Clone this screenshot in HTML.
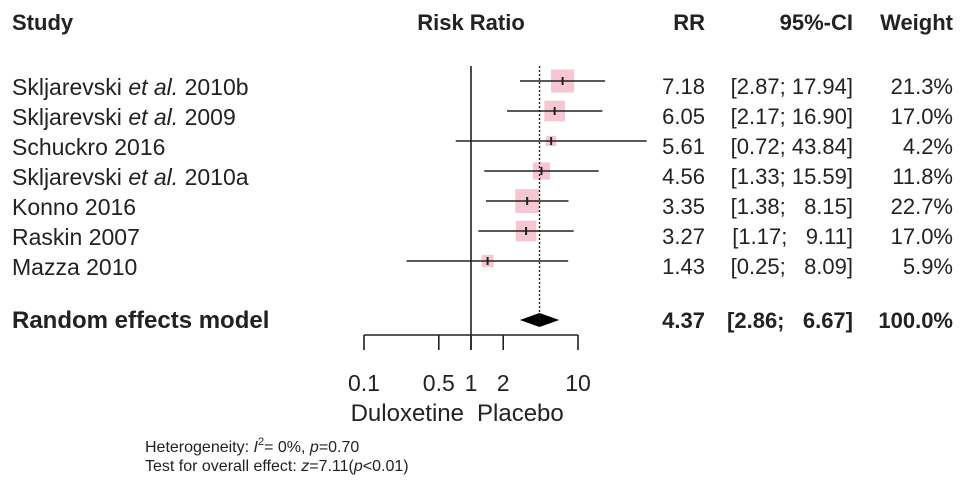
<!DOCTYPE html>
<html><head><meta charset="utf-8"><style>
body{margin:0;background:#fff;}
svg{display:block;font-family:"Liberation Sans",Arial,sans-serif;}
</style></head><body>
<svg id="chart" width="969" height="490" viewBox="0 0 969 490" xmlns="http://www.w3.org/2000/svg">
<g id="hdr" fill="#222" font-weight="bold" font-size="22">
<text x="12" y="30">Study</text>
<text x="471" y="30" text-anchor="middle">Risk Ratio</text>
<text x="705" y="30" text-anchor="end">RR</text>
<text x="853" y="30" text-anchor="end">95%-CI</text>
<text x="953" y="30" text-anchor="end">Weight</text>
</g>
<g id="rows"></g>
<g id="axis" stroke="#222" stroke-width="1.6" fill="none"></g>
<g id="foot" fill="#222" font-size="16">
<text x="145" y="452">Heterogeneity: <tspan font-style="italic">I</tspan><tspan dy="-7" font-size="11">2</tspan><tspan dy="7">= 0%, </tspan><tspan font-style="italic">p</tspan>=0.70</text>
<text x="145" y="471">Test for overall effect: <tspan font-style="italic">z</tspan>=7.11(<tspan font-style="italic">p</tspan>&lt;0.01)</text>
</g>
</svg>
<script>
const studies=["Skljarevski|et al.| 2010b","Skljarevski|et al.| 2009","Schuckro 2016","Skljarevski|et al.| 2010a","Konno 2016","Raskin 2007","Mazza 2010"];
const rr=[7.18,6.05,5.61,4.56,3.35,3.27,1.43];
const lo=[2.87,2.17,0.72,1.33,1.38,1.17,0.25];
const hi=[17.94,16.90,43.84,15.59,8.15,9.11,8.09];
const weight=[21.3,17.0,4.2,11.8,22.7,17.0,5.9];
const pooled=[4.37,2.86,6.67];
const ticks=[0.1,0.5,1,2,10];
const tickLabels=["0.1","0.5","1","2","10"];
const NS="http://www.w3.org/2000/svg";
const x=v=>471+107*Math.log10(v);
const rowY=i=>81+i*30;
function mk(tag,attrs,parent,text){const e=document.createElementNS(NS,tag);for(const k in attrs)e.setAttribute(k,attrs[k]);if(text!==undefined)e.textContent=text;parent.appendChild(e);return e;}
const rows=document.getElementById('rows');
const axis=document.getElementById('axis');
const f2=v=>v.toFixed(2);
const ciStr=(a,b)=>'['+f2(a)+';\u00a0'+f2(b).padStart(5,'\u2007')+']';
let l=mk('line',{x1:x(1),x2:x(1),y1:66,y2:350,stroke:'#222','stroke-width':1.6},axis);


l=mk('line',{x1:x(pooled[0]),x2:x(pooled[0]),y1:66,y2:320,stroke:'#222','stroke-width':1.4,'stroke-dasharray':'2,2'},axis);


studies.forEach((s,i)=>{
  const y=rowY(i);
  const g=mk('g',{},rows);
  
  
  const p=s.split('|');
  const t=mk('text',{x:12,y:y+14,'font-size':23,fill:'#222'},g);
  
  
  mk('tspan',{},t,p[0]+(p.length>1?' ':''));
  if(p.length>1){mk('tspan',{'font-style':'italic'},t,p[1]);mk('tspan',{},t,p[2]);}
  const side=5*Math.sqrt(weight[i]);
  const sq=mk('rect',{x:x(rr[i])-side/2,y:y-side/2,width:side,height:side,fill:'#f7c6d3'},g);
  
  
  const ci=mk('line',{x1:x(lo[i]),x2:x(hi[i]),y1:y,y2:y,stroke:'#222','stroke-width':1.6},g);
  
  
  const pt=mk('line',{x1:x(rr[i]),x2:x(rr[i]),y1:y-4,y2:y+4,stroke:'#222','stroke-width':2},g);
  
  
  let tx=mk('text',{x:705,y:y+13,'font-size':22,fill:'#222','text-anchor':'end'},g,f2(rr[i]));
  
  
  tx=mk('text',{x:853,y:y+13,'font-size':22,fill:'#222','text-anchor':'end'},g,ciStr(lo[i],hi[i]));
  
  
  tx=mk('text',{x:953,y:y+13,'font-size':22,fill:'#222','text-anchor':'end'},g,weight[i].toFixed(1)+'%');
  
  
});
const py=320;
const pg=mk('g',{},rows);


let t=mk('text',{x:12,y:py+8,'font-size':24,'font-weight':'bold',fill:'#222'},pg,'Random effects model');


const dm=mk('polygon',{points:`${x(pooled[1])},${py} ${x(pooled[0])},${py-7} ${x(pooled[2])},${py} ${x(pooled[0])},${py+7}`,fill:'#000'},pg);


t=mk('text',{x:705,y:py+8,'font-size':22,'font-weight':'bold',fill:'#222','text-anchor':'end'},pg,f2(pooled[0]));


t=mk('text',{x:853,y:py+8,'font-size':22,'font-weight':'bold',fill:'#222','text-anchor':'end'},pg,ciStr(pooled[1],pooled[2]));


t=mk('text',{x:953,y:py+8,'font-size':22,'font-weight':'bold',fill:'#222','text-anchor':'end'},pg,'100.0%');


l=mk('line',{x1:x(ticks[0]),x2:x(ticks[ticks.length-1]),y1:335,y2:335},axis);


const svg=document.getElementById('chart');
ticks.forEach((v,i)=>{
  const tk=mk('line',{x1:x(v),x2:x(v),y1:335,y2:350},axis);
  
  
  const lb=mk('text',{x:x(v),y:391,'font-size':23,fill:'#222','text-anchor':'middle'},svg,tickLabels[i]);
  
  
});
t=mk('text',{x:x(1)-7,y:421,'font-size':24,fill:'#222','text-anchor':'end'},svg,'Duloxetine');


t=mk('text',{x:x(1)+6,y:421,'font-size':24,fill:'#222'},svg,'Placebo');


</script>
</body></html>
